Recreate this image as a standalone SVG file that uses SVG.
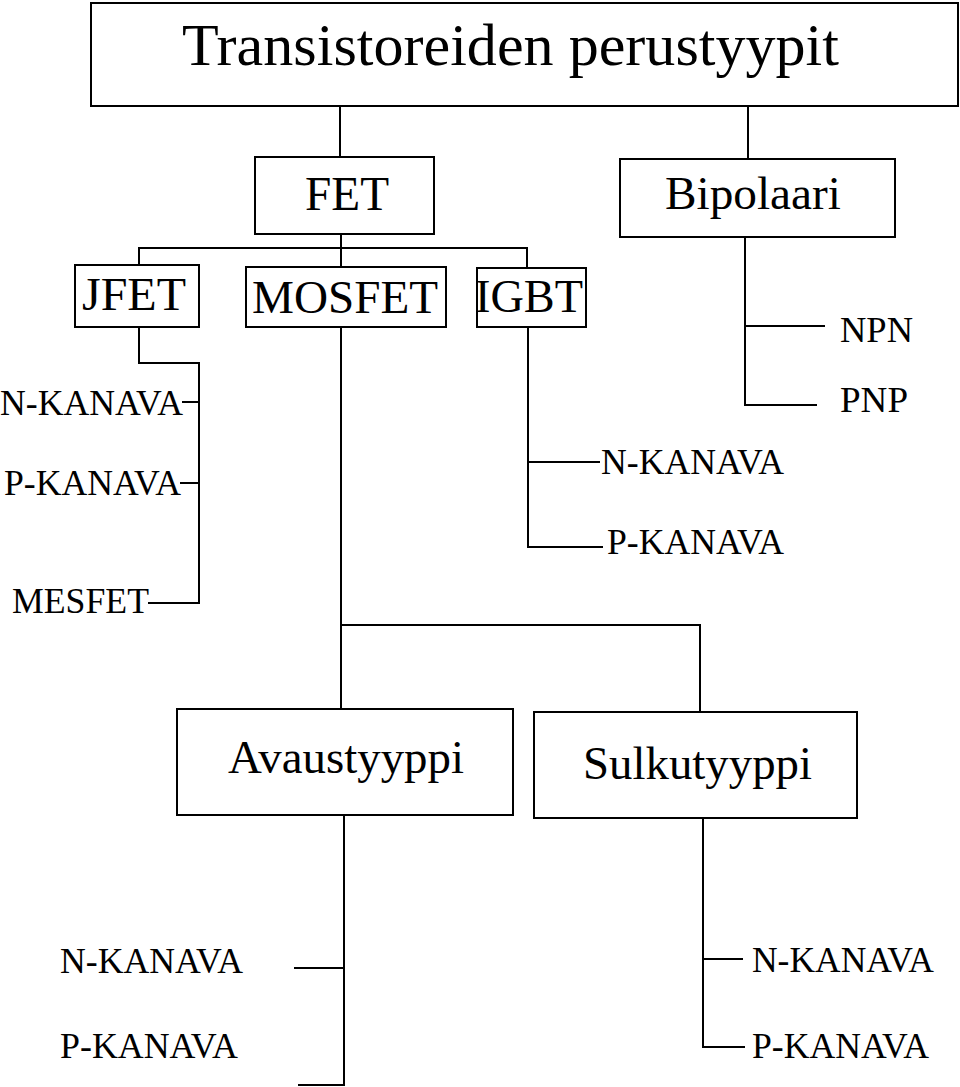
<svg xmlns="http://www.w3.org/2000/svg" width="960" height="1087" viewBox="0 0 960 1087">
<style>
.box{fill:#fff;stroke:#000;stroke-width:2}
.ln{fill:none;stroke:#000;stroke-width:2}
text{font-family:"Liberation Serif","Times New Roman",serif;fill:#000}
.t60{font-size:60px}
.t48{font-size:48px}
.t47{font-size:47px}
.t34{font-size:35px}
</style>
<rect width="960" height="1087" fill="#fff"/>
<g id="connectors">
<path class="ln" d="M340 106 V157"/>
<path class="ln" d="M748 106 V159"/>
<path class="ln" d="M341 234 V267"/>
<path class="ln" d="M139 265 V248 H527 V268"/>
<path class="ln" d="M139 327 V363 H199 V603 H148"/>
<path class="ln" d="M182 402 H199"/>
<path class="ln" d="M180 483 H199"/>
<path class="ln" d="M341 327 V709"/>
<path class="ln" d="M341 625 H700 V712"/>
<path class="ln" d="M528 327 V547 H603"/>
<path class="ln" d="M528 462 H600"/>
<path class="ln" d="M745 237 V405 H817"/>
<path class="ln" d="M745 326 H825"/>
<path class="ln" d="M344 815 V1085 H298"/>
<path class="ln" d="M294 968 H344"/>
<path class="ln" d="M703 818 V1047 H745"/>
<path class="ln" d="M703 959 H743"/>
</g>
<g id="title"><rect class="box" x="91" y="3" width="867" height="103"/><text class="t60" x="182" y="65" textLength="657" lengthAdjust="spacingAndGlyphs">Transistoreiden perustyypit</text></g>
<g id="fet"><rect class="box" x="255" y="157" width="179" height="77"/><text class="t48" x="305" y="210" textLength="84" lengthAdjust="spacingAndGlyphs">FET</text></g>
<g id="bipolaari"><rect class="box" x="620" y="159" width="275" height="78"/><text class="t47" x="665" y="209" textLength="176" lengthAdjust="spacingAndGlyphs">Bipolaari</text></g>
<g id="jfet"><rect class="box" x="75" y="265" width="124" height="62"/><text class="t47" x="82" y="310" textLength="104" lengthAdjust="spacingAndGlyphs">JFET</text></g>
<g id="mosfet"><rect class="box" x="246" y="267" width="200" height="60"/><text class="t47" x="252" y="313" textLength="186" lengthAdjust="spacingAndGlyphs">MOSFET</text></g>
<g id="igbt"><rect class="box" x="477" y="268" width="109" height="59"/><text class="t47" x="475" y="312" textLength="108" lengthAdjust="spacingAndGlyphs">IGBT</text></g>
<g id="jfet-n"><text class="t34" x="0" y="415" textLength="183" lengthAdjust="spacingAndGlyphs">N-KANAVA</text></g>
<g id="jfet-p"><text class="t34" x="4" y="495" textLength="177" lengthAdjust="spacingAndGlyphs">P-KANAVA</text></g>
<g id="mesfet"><text class="t34" x="12" y="613" textLength="137" lengthAdjust="spacingAndGlyphs">MESFET</text></g>
<g id="igbt-n"><text class="t34" x="601" y="474" textLength="183" lengthAdjust="spacingAndGlyphs">N-KANAVA</text></g>
<g id="igbt-p"><text class="t34" x="607" y="554" textLength="177" lengthAdjust="spacingAndGlyphs">P-KANAVA</text></g>
<g id="npn"><text class="t34" x="840" y="342" textLength="73" lengthAdjust="spacingAndGlyphs">NPN</text></g>
<g id="pnp"><text class="t34" x="840" y="412" textLength="68" lengthAdjust="spacingAndGlyphs">PNP</text></g>
<g id="avaustyyppi"><rect class="box" x="177" y="709" width="336" height="106"/><text class="t47" x="228" y="773" textLength="236" lengthAdjust="spacingAndGlyphs">Avaustyyppi</text></g>
<g id="sulkutyyppi"><rect class="box" x="534" y="712" width="323" height="106"/><text class="t47" x="583" y="779" textLength="229" lengthAdjust="spacingAndGlyphs">Sulkutyyppi</text></g>
<g id="avaus-n"><text class="t34" x="60" y="973" textLength="183" lengthAdjust="spacingAndGlyphs">N-KANAVA</text></g>
<g id="avaus-p"><text class="t34" x="60" y="1058" textLength="178" lengthAdjust="spacingAndGlyphs">P-KANAVA</text></g>
<g id="sulku-n"><text class="t34" x="752" y="972" textLength="182" lengthAdjust="spacingAndGlyphs">N-KANAVA</text></g>
<g id="sulku-p"><text class="t34" x="752" y="1058" textLength="177" lengthAdjust="spacingAndGlyphs">P-KANAVA</text></g>
</svg>
